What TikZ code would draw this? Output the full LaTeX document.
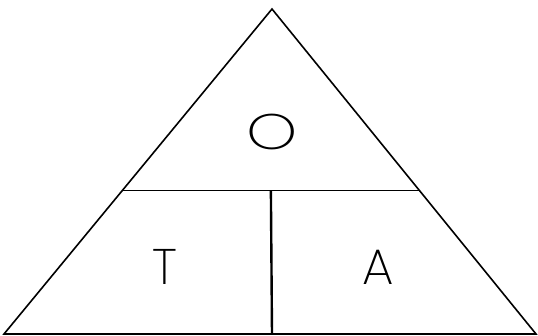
\documentclass[tikz,border=0pt]{standalone}
\usepackage{fontspec}
\setmainfont{Poppins}[UprightFont=* ExtraLight]
\usetikzlibrary{calc}

\begin{document}
\begin{tikzpicture}[x=1pt, y=-1pt]
    \useasboundingbox (0,0) rectangle (538,336);
    \tikzset{edge/.style={line width=1.6pt, line cap=round, line join=miter},
             letter/.style={font=\fontsize{50}{50}\selectfont, inner sep=0pt}}
    % corners of the triangle
    \coordinate (apex) at (272,9);
    \coordinate (bl) at (4,334);
    \coordinate (br) at (536,334);
    \draw[edge] (bl) -- (apex) -- (br) -- cycle;
    % dividing lines
    \coordinate (ml) at ($(bl)!0.4415!(apex)$);
    \coordinate (mr) at ($(br)!0.4415!(apex)$);
    \coordinate (mid) at ($(ml)!0.5!(mr)$);
    \coordinate (bot) at (272,334);
    \draw[edge] (ml) -- (mr);
    \draw[line width=2.4pt] (mid) -- (bot);
    % letters
    \node[letter, xscale=1.3] (o) at (272,132) {O};
    \node[letter] (t) at (165,267) {T};
    \node[letter] (a) at (378,267) {A};
\end{tikzpicture}
\end{document}
